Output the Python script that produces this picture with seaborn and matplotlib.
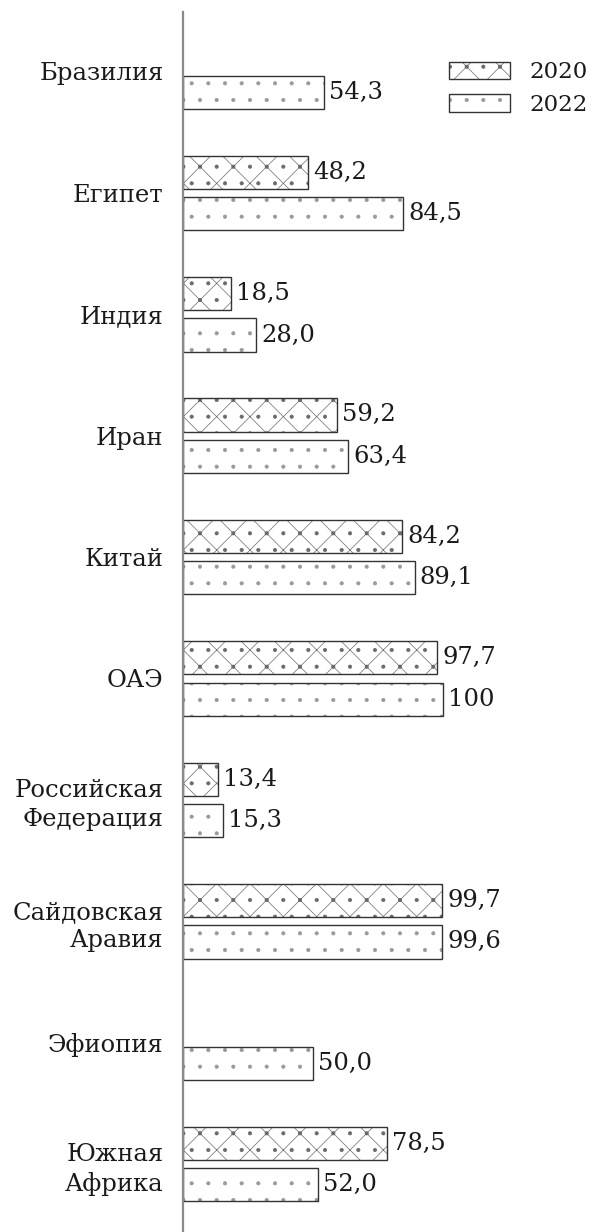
import numpy as np
import pandas as pd
import matplotlib
matplotlib.use("Agg")
import matplotlib.pyplot as plt
from matplotlib.patches import Patch
import matplotlib.colors as mcolors
import seaborn as sns

countries = ["Бразилия", "Египет", "Индия", "Иран", "Китай", "ОАЭ",
             "Российская\nФедерация", "Сайдовская\nАравия", "Эфиопия",
             "Южная\nАфрика"]
v2020 = [np.nan, 48.2, 18.5, 59.2, 84.2, 97.7, 13.4, 99.7, np.nan, 78.5]
v2022 = [54.3, 84.5, 28.0, 63.4, 89.1, 100.0, 15.3, 99.6, 50.0, 52.0]
years = ["2020", "2022"]

df = pd.DataFrame({
    "country": countries * 2,
    "year": [years[0]] * len(countries) + [years[1]] * len(countries),
    "value": v2020 + v2022,
})

sns.set_theme(style="white")
plt.rcParams["font.family"] = ["DejaVu Serif"]
plt.rcParams["hatch.linewidth"] = 0.5

FS = 17.5
TXT = "#1a1a1a"

fig = plt.figure(figsize=(5.92, 12.32), dpi=100)
ax = fig.add_axes([183 / 592, 0, 409 / 592, 1220 / 1232])

sns.barplot(data=df, x="value", y="country", hue="year", orient="h",
            order=countries, hue_order=years, width=0.683, gap=0.2,
            palette=["white", "white"], edgecolor="#333333", linewidth=1.0,
            ax=ax, legend=False)

hatches = {"2020": "/\\.", "2022": "."}
hatch_cols = {"2020": "#6a6a6a", "2022": "#999999"}


def style_patch(p, yr):
    p.set_hatch(hatches[yr])
    p.set_edgecolor("#333333")
    p._hatch_color = mcolors.to_rgba(hatch_cols[yr])


for cont, yr in zip(ax.containers, years):
    for p in cont:
        style_patch(p, yr)
        w = p.get_width()
        if w is None or np.isnan(w) or w == 0:
            continue
        lab = "100" if w == 100 else f"{w:.1f}".replace(".", ",")
        ax.text(w + 2.0, p.get_y() + p.get_height() / 2, lab,
                va="center", ha="left", fontsize=FS, color=TXT)

ax.set_xlim(0, 409 / 2.6)
ax.set_ylim(9.56, -0.49)
ax.set_xlabel("")
ax.set_ylabel("")
ax.set_xticks([])
for s in ["top", "right", "bottom"]:
    ax.spines[s].set_visible(False)
ax.spines["left"].set_color("#8a8a8a")
ax.spines["left"].set_linewidth(1.6)
ax.tick_params(axis="y", length=0, pad=14, labelsize=FS, labelcolor=TXT)
for t in ax.get_yticklabels():
    t.set_linespacing(1.3)

LFS = 16.5
handles = []
for y in years:
    h = Patch(facecolor="white", edgecolor="#333333", hatch=hatches[y],
              linewidth=1.0, label=y)
    handles.append(h)
leg = fig.legend(handles=handles, loc="upper left",
                 bbox_to_anchor=(438 / 592, 1 - 50 / 1232), frameon=False,
                 fontsize=LFS, handlelength=2.65, handleheight=0.8,
                 handletextpad=0.85, labelspacing=0.45, borderpad=0)
for p, y in zip(leg.get_patches(), years):
    p._hatch_color = mcolors.to_rgba(hatch_cols[y])
for t in leg.get_texts():
    t.set_color(TXT)

fig.savefig("out.png", dpi=100)
